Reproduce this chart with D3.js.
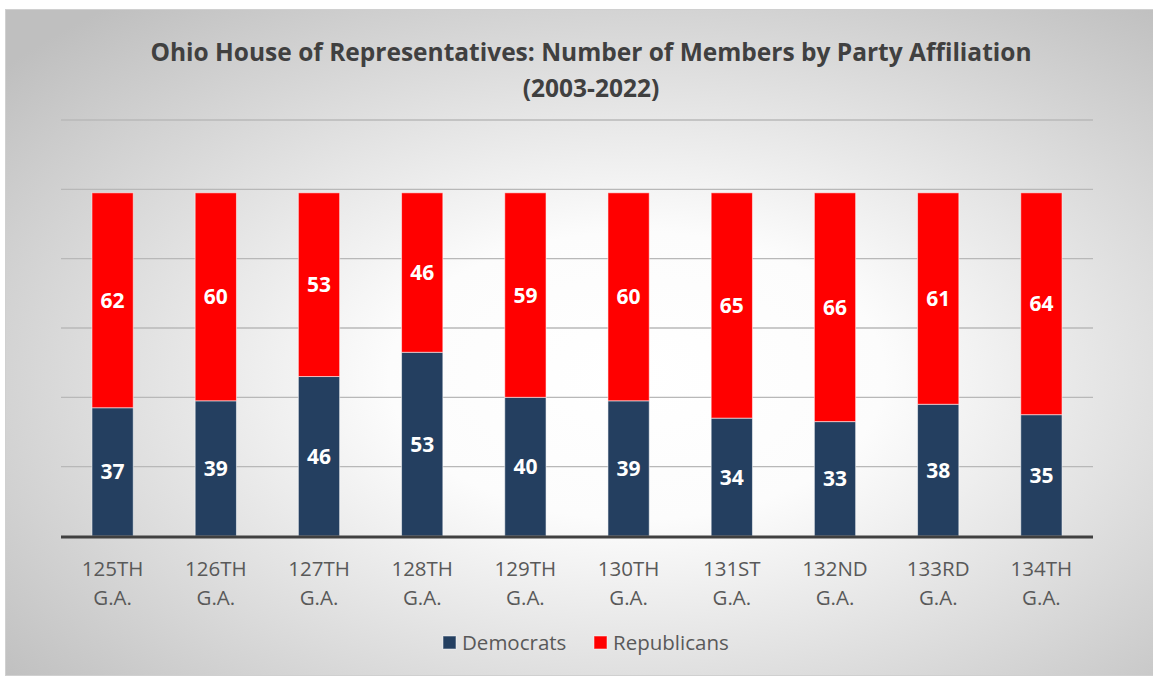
<!DOCTYPE html>
<html><head><meta charset="utf-8">
<script src="https://cdn.jsdelivr.net/npm/d3@7"></script>
<style>html,body{margin:0;padding:0;background:#fff;}svg{display:block;}</style>
</head><body>
<script>
const categories = ["125TH G.A.","126TH G.A.","127TH G.A.","128TH G.A.","129TH G.A.","130TH G.A.","131ST G.A.","132ND G.A.","133RD G.A.","134TH G.A."];
const democrats = [37,39,46,53,40,39,34,33,38,35];
const republicans = [62,60,53,46,59,60,65,66,61,64];
const seriesNames = ["Democrats","Republicans"];
const seriesColors = ["#243f60","#ff0000"];
const yTicks = [0,20,40,60,80,100,120];
const titleLines = ["Ohio House of Representatives: Number of Members by Party Affiliation","(2003-2022)"];

const W = 1153, H = 677;
const svg = d3.select("body").append("svg").attr("width", W).attr("height", H);
const defs = svg.append("defs");
const grad = defs.append("radialGradient").attr("id","bg").attr("cx","55%").attr("cy","55%").attr("r","72%");
grad.append("stop").attr("offset","0%").attr("stop-color","#ffffff");
grad.append("stop").attr("offset","30%").attr("stop-color","#fcfcfc");
grad.append("stop").attr("offset","100%").attr("stop-color","#bfbfbf");
svg.append("rect").attr("x",5.5).attr("y",9.5).attr("width",W-5).attr("height",H-11)
  .attr("fill","url(#bg)").attr("stroke","#d0d0d0").attr("stroke-width",1);

const font = "'Open Sans', 'Noto Sans', sans-serif";
svg.append("g").selectAll("text").data(titleLines).join("text")
  .attr("x",591).attr("y",(d,i)=>61+i*36).attr("text-anchor","middle")
  .attr("font-family",font).attr("font-weight","bold").attr("font-size","24.5px").attr("fill","#404040")
  .text(d=>d);

const x0 = 61, x1 = 1093, yBase = 536, yTop = 120;
const x = d3.scaleBand().domain(categories).range([x0,x1]).paddingInner(0.6).paddingOuter(0.3);
const y = d3.scaleLinear().domain([0,120]).range([yBase,yTop]);

svg.append("g").selectAll("line").data(yTicks.filter(t=>t>0)).join("line")
  .attr("x1",x0).attr("x2",x1).attr("y1",d=>y(d)).attr("y2",d=>y(d))
  .attr("stroke","#b8b8b8").attr("stroke-width",1.3);

const data = categories.map((c,i)=>({cat:c, Democrats:democrats[i], Republicans:republicans[i]}));
const stack = d3.stack().keys(seriesNames)(data);

const g = svg.append("g");
stack.forEach((s,si)=>{
  g.append("g").selectAll("rect").data(s).join("rect")
    .attr("x",d=>x(d.data.cat)).attr("width",x.bandwidth())
    .attr("y",d=>y(d[1])).attr("height",d=>y(d[0])-y(d[1]))
    .attr("fill",seriesColors[si]).attr("stroke","rgba(255,255,255,0.55)").attr("stroke-width",1);
  g.append("g").selectAll("text").data(s).join("text")
    .attr("x",d=>x(d.data.cat)+x.bandwidth()/2).attr("y",d=>(y(d[0])+y(d[1]))/2)
    .attr("dy","0.36em").attr("text-anchor","middle")
    .attr("font-family",font).attr("font-weight","bold").attr("font-size","21px").attr("fill","#ffffff")
    .text(d=>d[1]-d[0]);
});

svg.append("line").attr("x1",x0).attr("x2",x1).attr("y1",yBase+1).attr("y2",yBase+1)
  .attr("stroke","#404040").attr("stroke-width",3);

const xa = svg.append("g").attr("transform",`translate(0,${yBase})`).call(d3.axisBottom(x).tickSize(0).tickFormat(""));
xa.select(".domain").remove();
xa.selectAll(".tick").each(function(d){
  const t = d3.select(this).append("text").attr("text-anchor","middle")
    .attr("font-family",font).attr("font-size","20.5px").attr("fill","#595959");
  const parts = d.split(" ");
  t.selectAll("tspan").data(parts).join("tspan").attr("x",0).attr("y",(p,i)=>39.5+i*29).text(p=>p);
});

const legend = svg.append("g");
const lx = [443, 594];
seriesNames.forEach((n,i)=>{
  legend.append("rect").attr("x",lx[i]).attr("y",636).attr("width",13).attr("height",13)
    .attr("fill",seriesColors[i]).attr("stroke","rgba(255,255,255,0.5)");
  legend.append("text").attr("x",lx[i]+19).attr("y",649.5).attr("font-family",font)
    .attr("font-size","20.5px").attr("fill","#595959").text(n);
});
</script>
</body></html>
